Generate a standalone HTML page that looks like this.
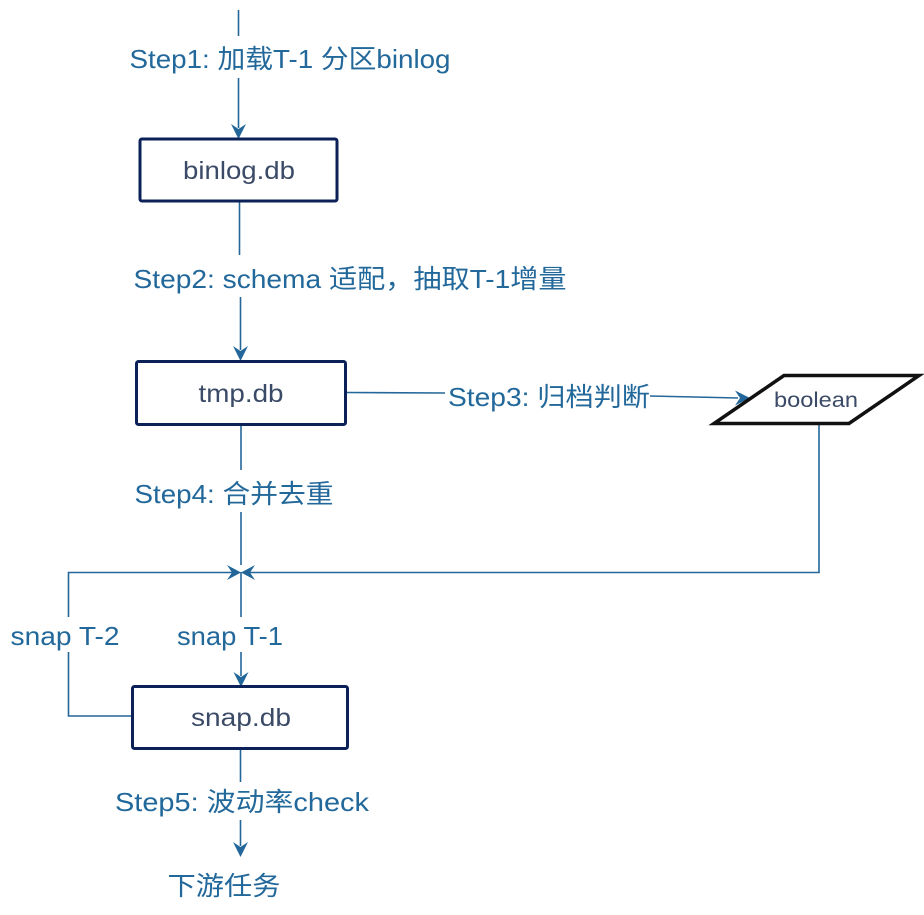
<!DOCTYPE html>
<html><head><meta charset="utf-8"><style>
html,body{margin:0;padding:0;background:#fff;}
svg text{font-family:"Liberation Sans","Noto Sans CJK SC",sans-serif;}
</style></head><body>
<svg width="924" height="910" viewBox="0 0 924 910" xmlns="http://www.w3.org/2000/svg">
<g stroke="#23679a" stroke-width="1.6" fill="none">
<line x1="238.5" y1="10" x2="238.5" y2="36"/>
<line x1="238.5" y1="78" x2="238.5" y2="128"/>
<line x1="239.5" y1="201" x2="239.5" y2="255"/>
<line x1="240.5" y1="297" x2="240.5" y2="350"/>
<line x1="241" y1="425" x2="241" y2="470"/>
<line x1="241" y1="512" x2="241" y2="565"/>
<line x1="241" y1="572" x2="241" y2="617"/>
<line x1="241" y1="652" x2="241" y2="676"/>
<polyline points="132,716 68.5,716 68.5,652"/>
<polyline points="68.5,617 68.5,572.5 234,572.5"/>
<polyline points="819,425 819,572.5 248,572.5"/>
<polyline points="347,392.5 445,393"/>
<polyline points="650,396 738,398"/>
<line x1="240.5" y1="749" x2="240.5" y2="782"/>
<line x1="240.5" y1="820" x2="240.5" y2="846"/>
</g>
<g fill="#23679a">
<polygon points="238.5,139 231,124 238.5,129 246,124"/>
<polygon points="240.5,361 233,346 240.5,351 248,346"/>
<polygon points="241,572.5 227,565 232,572.5 227,580"/>
<polygon points="241,572.5 255,565 250,572.5 255,580"/>
<polygon points="241,687 233.5,672 241,677 248.5,672"/>
<polygon points="750,398 735,390.5 740,398 735,405.5"/>
<polygon points="240.5,857 233,842 240.5,847 248,842"/>
</g>
<g fill="#fff" stroke="#0b2158" stroke-width="3">
<rect x="140" y="139" width="197" height="62" rx="2"/>
<rect x="136.5" y="361.5" width="209" height="63" rx="2"/>
<rect x="132.5" y="686.5" width="215" height="62" rx="2"/>
</g>
<polygon points="784,375.5 919,375.5 849,423.5 714,423.5" fill="#fff" stroke="#111" stroke-width="3.5" stroke-linejoin="miter"/>
<g fill="#3b4a66" font-size="25" text-anchor="middle" lengthAdjust="spacingAndGlyphs">
<text x="239" y="179" textLength="112" lengthAdjust="spacingAndGlyphs">binlog.db</text>
<text x="241" y="402" textLength="85" lengthAdjust="spacingAndGlyphs">tmp.db</text>
<text x="241" y="726" textLength="100" lengthAdjust="spacingAndGlyphs">snap.db</text>
<text x="816" y="407" font-size="21" textLength="84" lengthAdjust="spacingAndGlyphs">boolean</text>
</g>
<g fill="#22689a" font-size="26" text-anchor="middle">
<text x="290" y="68" textLength="321" lengthAdjust="spacingAndGlyphs">Step1: 加载T-1 分区binlog</text>
<text x="350" y="288" textLength="433" lengthAdjust="spacingAndGlyphs">Step2:  schema 适配，抽取T-1增量</text>
<text x="549" y="406" textLength="202" lengthAdjust="spacingAndGlyphs">Step3: 归档判断</text>
<text x="234" y="503" textLength="199" lengthAdjust="spacingAndGlyphs">Step4: 合并去重</text>
<text x="65" y="645" textLength="109" lengthAdjust="spacingAndGlyphs">snap T-2</text>
<text x="230" y="645" textLength="106" lengthAdjust="spacingAndGlyphs">snap T-1</text>
<text x="242" y="811" textLength="254" lengthAdjust="spacingAndGlyphs">Step5:  波动率check</text>
<text x="224" y="895" textLength="113" lengthAdjust="spacingAndGlyphs">下游任务</text>
</g>
</svg>
</body></html>
